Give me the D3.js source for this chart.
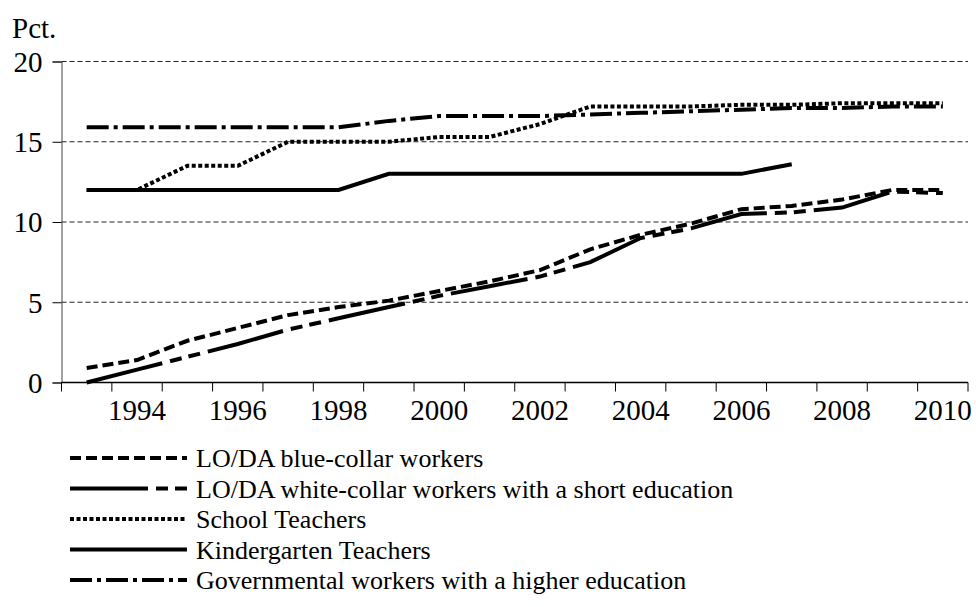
<!DOCTYPE html>
<html>
<head>
<meta charset="utf-8">
<script src="https://cdn.jsdelivr.net/npm/d3@7"></script>
<style>
  body { margin: 0; background: #fff; }
  text { font-family: "Liberation Serif", "Times New Roman", serif; fill: #000; }
</style>
</head>
<body>
<svg id="chart" width="976" height="607"></svg>
<script>
// Data (percent)
var years = [1993, 1994, 1995, 1996, 1997, 1998, 1999, 2000, 2001, 2002,
             2003, 2004, 2005, 2006, 2007, 2008, 2009, 2010]
var blueCollar = [0.9, 1.4, 2.6, 3.4, 4.2, 4.7, 5.1, 5.7, 6.3, 7.0,
                  8.3, 9.2, 9.9, 10.8, 11.0, 11.4, 12.0, 12.0]
var whiteCollar = [0.0, 0.8, 1.6, 2.4, 3.3, 4.0, 4.7, 5.4, 6.0, 6.6,
                   7.5, 9.0, 9.6, 10.5, 10.6, 10.9, 11.9, 11.8]
var schoolTeachers = [12, 12, 13.5, 13.5, 15, 15, 15, 15.3, 15.3, 16.1,
                      17.2, 17.2, 17.2, 17.3, 17.3, 17.4, 17.4, 17.4]
var kindergarten = [12, 12, 12, 12, 12, 12, 13, 13, 13, 13,
                    13, 13, 13, 13, 13.6, null, null, null]
var governmental = [15.9, 15.9, 15.9, 15.9, 15.9, 15.9, 16.3, 16.6, 16.6, 16.6,
                    16.7, 16.8, 16.9, 17.0, 17.1, 17.1, 17.2, 17.2]
var yTicks = [0, 5, 10, 15, 20]
var xLabels = [1994, 1996, 1998, 2000, 2002, 2004, 2006, 2008, 2010]
var seriesNames = ["LO/DA blue-collar workers",
                   "LO/DA white-collar workers with a short education",
                   "School Teachers",
                   "Kindergarten Teachers",
                   "Governmental workers with a higher education"]

var svg = d3.select("#chart")
var plotLeft = 61.5, plotRight = 968, plotTop = 61.5, plotBottom = 382.5

var x = d3.scaleBand().domain(years).range([plotLeft, plotRight])
var y = d3.scaleLinear().domain([0, 20]).range([plotBottom, plotTop])

// gridlines
svg.append("g").selectAll("line")
    .data(yTicks.filter(function (d) { return d > 0 }))
    .enter().append("line")
    .attr("x1", plotLeft).attr("x2", plotRight)
    .attr("y1", function (d) { return y(d) }).attr("y2", function (d) { return y(d) })
    .attr("stroke", "#222").attr("stroke-width", 1)
    .attr("stroke-dasharray", "5,3")

// y axis
var yAxis = svg.append("g").attr("transform", "translate(" + plotLeft + ",0)")
    .call(d3.axisLeft(y).tickValues(yTicks).tickSize(9).tickPadding(10))
yAxis.select(".domain").attr("stroke", "#444").attr("stroke-width", 1)
yAxis.selectAll(".tick line").attr("stroke", "#000")
yAxis.selectAll("text").style("font-size", "29px")
    .style("font-family", "Liberation Serif").attr("dy", "0.34em")

svg.append("text").attr("x", 12).attr("y", 38)
    .style("font-size", "29px").text("Pct.")

// x axis: ticks at band boundaries, labels every second year
var xg = svg.append("g")
xg.append("line").attr("x1", plotLeft).attr("x2", plotRight)
    .attr("y1", plotBottom).attr("y2", plotBottom)
    .attr("stroke", "#000").attr("stroke-width", 1.5)
xg.selectAll(".xt").data(years.concat([null]))
    .enter().append("line").attr("class", "xt")
    .attr("x1", function (d, i) { return plotLeft + i * x.bandwidth() })
    .attr("x2", function (d, i) { return plotLeft + i * x.bandwidth() })
    .attr("y1", plotBottom).attr("y2", plotBottom + 9)
    .attr("stroke", "#000").attr("stroke-width", 1)
xg.selectAll(".xl").data(xLabels)
    .enter().append("text").attr("class", "xl")
    .attr("x", function (d) { return x(d) + x.bandwidth() / 2 })
    .attr("y", 419.5)
    .attr("text-anchor", "middle")
    .style("font-size", "29px")
    .text(function (d) { return d })

var series = [
    { name: seriesNames[0], values: blueCollar, dash: "11,5" },
    { name: seriesNames[1], values: whiteCollar, dash: "78,8,12,7,12,8" },
    { name: seriesNames[2], values: schoolTeachers, dash: "4,2.5" },
    { name: seriesNames[3], values: kindergarten, dash: null },
    { name: seriesNames[4], values: governmental, dash: "22,5,4,5" }
]

var line = d3.line()
    .defined(function (d) { return d != null })
    .x(function (d, i) { return x(years[i]) + x.bandwidth() / 2 })
    .y(function (d) { return y(d) })

svg.append("g").selectAll("path")
    .data(series)
    .enter().append("path")
    .attr("d", function (d) { return line(d.values) })
    .attr("fill", "none")
    .attr("stroke", "#000")
    .attr("stroke-width", 4)
    .attr("stroke-dasharray", function (d) { return d.dash })

// legend
var lg = svg.append("g")
var rowY = [467, 497.5, 528, 558.5, 589]
lg.selectAll("line").data(series)
    .enter().append("line")
    .attr("x1", 70).attr("x2", 187)
    .attr("y1", function (d, i) { return rowY[i] - 9 })
    .attr("y2", function (d, i) { return rowY[i] - 9 })
    .attr("stroke", "#000").attr("stroke-width", 4)
    .attr("stroke-dasharray", function (d) { return d.dash })
lg.selectAll("text").data(series)
    .enter().append("text")
    .attr("x", 196)
    .attr("y", function (d, i) { return rowY[i] })
    .style("font-size", "26px")
    .text(function (d) { return d.name })
</script>
</body>
</html>
